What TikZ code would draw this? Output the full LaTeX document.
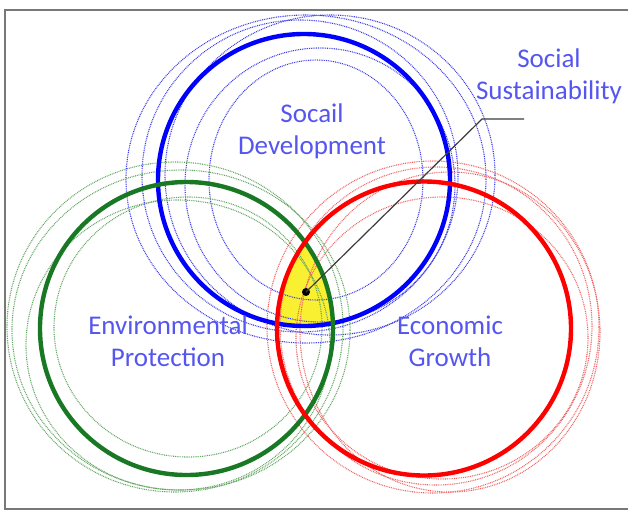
\documentclass[tikz,border=0pt]{standalone}
\usepackage{fontspec}
\setmainfont{Carlito}
\begin{document}
\begin{tikzpicture}[x=1pt,y=-1pt,
  lbl/.style={text=txtblue,font=\fontsize{27}{32}\selectfont,align=center,inner sep=0pt},
  dotline/.style={dash pattern=on 0.9pt off 0.9pt,line width=1.1pt},
  bdot/.style={draw=dotblue,dotline},
  gdot/.style={draw=dotgreen,dotline},
  rdot/.style={draw=dotred,dotline},
  thick circ/.style={line width=4.4pt}]
\definecolor{txtblue}{RGB}{85,85,240}
\definecolor{dotblue}{RGB}{60,60,235}
\definecolor{dotgreen}{RGB}{100,165,100}
\definecolor{dotred}{RGB}{240,100,100}
\definecolor{envgreen}{RGB}{25,120,35}
\definecolor{framegray}{RGB}{120,120,120}
\definecolor{leadgray}{RGB}{60,60,60}
\definecolor{fillyellow}{RGB}{250,240,50}
\useasboundingbox (0,0) rectangle (628,512);
% frame
\draw[framegray,line width=1.6pt] (640,10) -- (5,10) -- (5,509) -- (640,509);
% yellow intersection
\begin{scope}
  \clip (304,180) circle (146);
  \clip (186.5,328.5) circle (146.5);
  \fill[fillyellow] (424,328.5) circle (147);
\end{scope}
% dotted blue
\draw[bdot] (306,179) ellipse (180 and 164);
\draw[bdot] (300,176) ellipse (158 and 156);
\draw[bdot] (330,175) ellipse (165 and 160);
\draw[bdot] (320,185) ellipse (135 and 137);
\draw[bdot] (316,180) ellipse (107 and 120);
% dotted green
\draw[gdot] (175,327) ellipse (168 and 165);
\draw[gdot] (181,330) ellipse (169 and 160);
\draw[gdot] (188,327) ellipse (134 and 130);
\draw[gdot] (178,345) ellipse (152 and 145);
% dotted red
\draw[rdot] (433,327) ellipse (166 and 166);
\draw[rdot] (436,326) ellipse (156 and 159);
\draw[rdot] (442,338) ellipse (146 and 141);
\draw[rdot] (450,332) ellipse (150 and 160);
% thick circles
\node[draw=blue,thick circ,circle,minimum size=292pt,inner sep=0pt] (soc) at (304,180) {};
\node[draw=envgreen,thick circ,circle,minimum size=293pt,inner sep=0pt] (env) at (186.5,328.5) {};
\node[draw=red,thick circ,circle,minimum size=294pt,inner sep=0pt] (eco) at (424,328.5) {};
% labels
\node[lbl] (tsoc) at (312,131) {Socail\\Development};
\node[lbl] (tenv) at (168,341) {Environmental\\Protection};
\node[lbl] (teco) at (450,341) {Economic\\Growth};
\node[lbl] (tss) at (549,76) {Social\\Sustainability};
% leader
\fill[black] (306,292) circle (4) coordinate (dot);
\coordinate (corner) at (482,119);
\coordinate (lend) at (524,119);
\draw[leadgray,line width=1.2pt] (dot) -- (corner) -- (lend);
\end{tikzpicture}
\end{document}
